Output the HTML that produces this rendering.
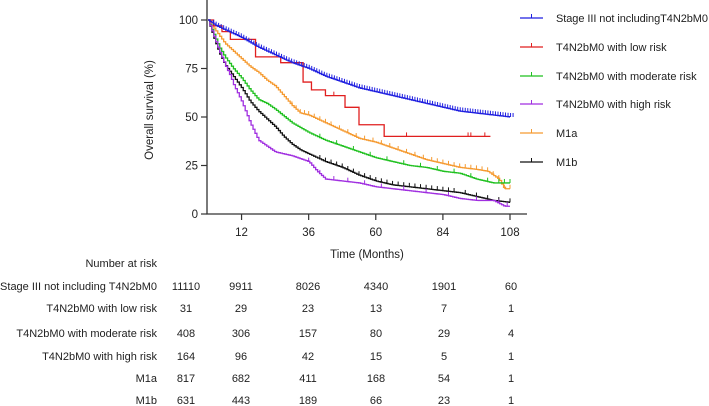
<!DOCTYPE html>
<html><head><meta charset="utf-8"><style>
body{margin:0;background:#fff;}
svg{display:block;font-family:"Liberation Sans",Arial,sans-serif;}
</style></head><body>
<svg id="chart" width="709" height="406" viewBox="0 0 709 406" xmlns="http://www.w3.org/2000/svg"></svg>
<script>
// ---- data ----
const tickMonths=[12,36,60,84,108];
const yTicks=[0,25,50,75,100];
const seriesNames=["Stage III not includingT4N2bM0","T4N2bM0 with low risk","T4N2bM0 with moderate risk","T4N2bM0 with high risk","M1a","M1b"];
const seriesColors=["#1f1fe0","#e01f1f","#1fc01f","#a02fe0","#f59a30","#111111"];
const blueT=[0,3,6,9,12,18,24,30,36,42,48,54,60,66,72,78,84,90,96,102,108];
const blueV=[100,97,95,93,91,86,82,78,75,71,68,65,63,61,59,57,55,53,52,51,50];
const redT=[0,2,5,8,17,26,34,37,42,49,54,63,101];
const redV=[100,97,94,90,81,78,68,64,61,55,46,40,40];
const greenT=[0,2,4,6,9,12,15,18,21,24,30,36,42,48,54,60,66,72,78,84,90,96,102,108];
const greenV=[100,93,86,81,75,70,64,59,57,54,47,42,38,35,32,29,27,25,24,22,21,18,16,16];
const purpleT=[0,2,4,6,8,9,12,15,18,21,24,30,36,39,42,48,54,60,66,72,78,84,90,96,102,106,108];
const purpleV=[100,92,84,77,71,67,58,47,38,35,32,30,27,22,18,17,16,14,13,12,11,10,8,7,7,4,4];
const orangeT=[0,2,4,6,9,12,15,18,21,24,27,30,33,36,42,48,54,60,66,72,78,84,90,96,100,104,106,108];
const orangeV=[100,96,92,88,84,80,76,73,69,66,61,56,52,51,47,43,39,37,34,31,28,26,24,23,22,18,13,13];
const blackT=[0,2,4,6,9,12,15,18,21,24,27,30,33,36,42,48,54,60,66,72,78,84,90,96,102,108];
const blackV=[100,91,83,77,71,65,58,53,49,45,40,36,33,31,27,24,20,17,15,14,13,12,11,9,7,6];
const censor=[
 Array.from({length:120},(_,i)=>2+i*0.9),
 [45,71,93,94,99],
 [40,46,52,58,64,70,76,82,88,94,100,104,106,108],
 [36,40,45,50,56,62,70,78,86,96,104,107],
 [30,31.5,33,34.5,36,38,40,42,44,47,50,53,56,59,62,65,68,71,74,77,80,82,84,86,88,90,92,94,96,98,100,102,104,106,108],
 [40,42,44,46,48,50,52,54,56,58,60,62,64,66,68,70,72,74,76,78,80,82,84,86,88,92,96,100,104,108]
];
const riskRows=[[11110,9911,8026,4340,1901,60],[31,29,23,13,7,1],[408,306,157,80,29,4],[164,96,42,15,5,1],[817,682,411,168,54,1],[631,443,189,66,23,1]];
const riskLabels=["Stage III not including T4N2bM0","T4N2bM0 with low risk","T4N2bM0 with moderate risk","T4N2bM0 with high risk","M1a","M1b"];
const riskCols=[0,12,36,60,84,108];
// ---- axes ----
const X0=208,PXM=(510-208)/108,Y0=214,PXV=(214-20)/100;
const sx=m=>X0+m*PXM, sy=v=>Y0-v*PXV;
const svg=document.getElementById('chart');const NS="http://www.w3.org/2000/svg";
function mk(tag,attrs,parent){const e=document.createElementNS(NS,tag);for(const k in attrs)e.setAttribute(k,attrs[k]);(parent||svg).appendChild(e);return e;}
function valLin(T,V,m){if(m<=T[0])return V[0];for(let i=1;i<T.length;i++){if(m<=T[i]){const f=(m-T[i-1])/(T[i]-T[i-1]);return V[i-1]+f*(V[i]-V[i-1]);}}return V[V.length-1];}
function valStep(T,V,m){let v=V[0];for(let i=0;i<T.length;i++){if(T[i]<=m)v=V[i];}return v;}
let ax=mk('line',{x1:207,y1:0,x2:207,y2:214.5,stroke:'#333','stroke-width':1.3});


let axx=mk('line',{x1:206.4,y1:214,x2:527,y2:214,stroke:'#333','stroke-width':1.3});


yTicks.forEach(v=>{
 mk('line',{x1:201,x2:207,y1:sy(v),y2:sy(v),stroke:'#333','stroke-width':1.2});
 const t=mk('text',{x:198,y:sy(v)+4,'text-anchor':'end','font-size':11.5,fill:'#222'});t.textContent=v;
 
 
});
tickMonths.forEach(m=>{
 mk('line',{x1:sx(m),x2:sx(m),y1:214,y2:220,stroke:'#333','stroke-width':1.2});
 const t=mk('text',{x:sx(m),y:236,'text-anchor':'middle','font-size':11.5,fill:'#222'});t.textContent=m;
 
 
});
let xt=mk('text',{x:367,y:258,'text-anchor':'middle','font-size':11.5,fill:'#222'});xt.textContent='Time (Months)';


let yt=mk('text',{x:0,y:0,'text-anchor':'middle','font-size':11.5,fill:'#222',transform:'translate(153,110) rotate(-90)'});yt.textContent='Overall survival (%)';


const allT=[blueT,redT,greenT,purpleT,orangeT,blackT],allV=[blueV,redV,greenV,purpleV,orangeV,blackV];
const order=[4,1,2,5,3,0];
order.forEach(s=>{
 const T=allT[s],V=allV[s];
 const stepOnly=(s===1);
 const f=stepOnly?(m=>valStep(T,V,m)):(m=>valLin(T,V,m));
 let d;
 if(stepOnly){d=`M${sx(T[0])},${sy(V[0])}`;for(let i=1;i<T.length;i++){d+=`H${sx(T[i])}V${sy(V[i])}`;}}
 else{const end=T[T.length-1];d=`M${sx(0)},${sy(f(0))}`;let prev=f(0);
  for(let m=0.7;m<=end+0.01;m+=0.7){const v=f(Math.min(m,end));d+=`H${sx(Math.min(m,end))}V${sy(v)}`;prev=v;}
  d+=`H${sx(end)}`;}
 const p=mk('path',{d:d,fill:'none',stroke:seriesColors[s],'stroke-width':1.3});
 
 
 censor[s].forEach(m=>{const v=f(m);
  const c=mk('line',{x1:sx(m),x2:sx(m),y1:sy(v),y2:sy(v)-4,stroke:seriesColors[s],'stroke-width':1});
  
  });
});
const legY=[18,47,76,104,133,162];
seriesNames.forEach((n,i)=>{
 const g=mk('g',{});
 
 
 mk('line',{x1:520,x2:543,y1:legY[i],y2:legY[i],stroke:seriesColors[i],'stroke-width':1.3},g);
 mk('line',{x1:531.5,x2:531.5,y1:legY[i],y2:legY[i]-4,stroke:seriesColors[i],'stroke-width':1},g);
 const t=mk('text',{x:556,y:legY[i]+4,'font-size':11,fill:'#222'},g);t.textContent=n;
 if(i===0)t.setAttribute('textLength','152');
});
let nr=mk('text',{x:157,y:267,'text-anchor':'end','font-size':11,fill:'#222'});nr.textContent='Number at risk';


const rowY=[290,312,337,360,382,404];
const colX=[186,241,308,376,444,511];
riskLabels.forEach((l,r)=>{
 const t=mk('text',{x:157,y:rowY[r],'text-anchor':'end','font-size':11,fill:'#222'});t.textContent=l;
 
 
 riskRows[r].forEach((v,c)=>{
  const n=mk('text',{x:colX[c],y:rowY[r],'text-anchor':'middle','font-size':11,fill:'#222'});n.textContent=v;
  
  
 });
});
</script>
</body></html>
